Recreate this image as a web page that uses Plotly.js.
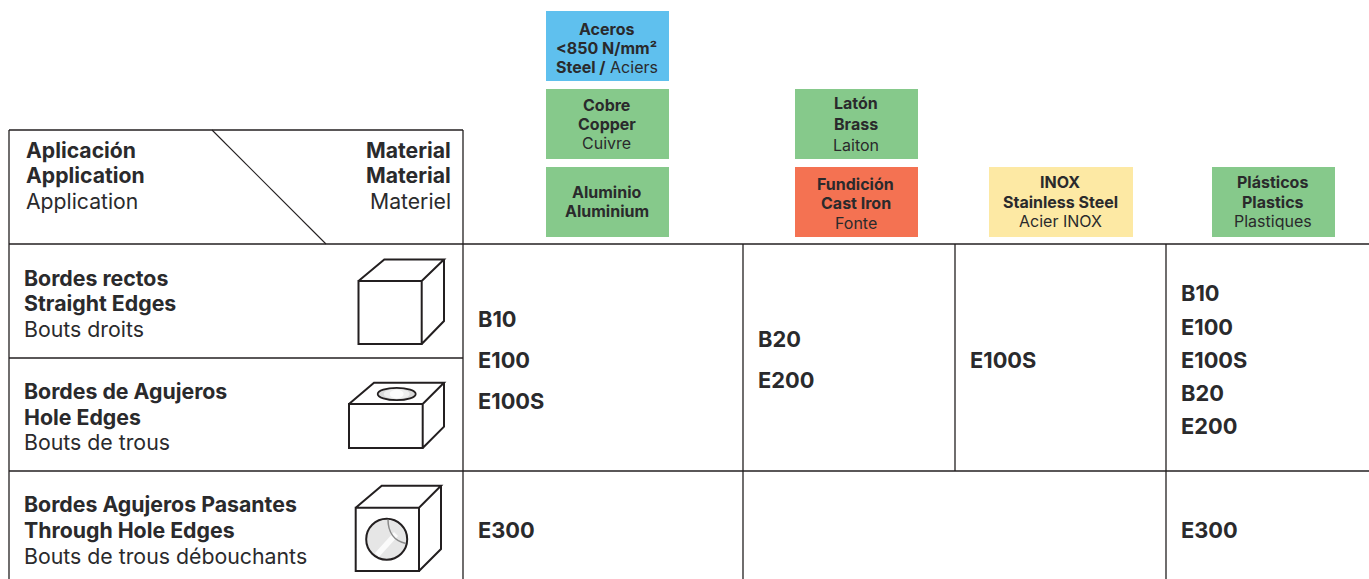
<!DOCTYPE html>
<html><head><meta charset="utf-8">
<script src="https://cdn.plot.ly/plotly-3.0.1.min.js"></script>
<style>html,body{margin:0;padding:0;background:#fff}#c{width:1369px;height:579px}</style>
</head><body><div id="c"></div>
<script>
// ---- content ----
const headerLeft = ["<b>Aplicación</b>", "<b>Application</b>", "Application"];
const headerRight = ["<b>Material</b>", "<b>Material</b>", "Materiel"];
const rowLabels = [
  ["<b>Bordes rectos</b>", "<b>Straight Edges</b>", "Bouts droits"],
  ["<b>Bordes de Agujeros</b>", "<b>Hole Edges</b>", "Bouts de trous"],
  ["<b>Bordes Agujeros Pasantes</b>", "<b>Through Hole Edges</b>", "Bouts de trous débouchants"]
];
const materialLabels = [
  ["<b>Aceros</b>", "<b>&lt;850 N/mm²</b>", "<b>Steel /</b> Aciers"],
  ["<b>Cobre</b>", "<b>Copper</b>", "Cuivre"],
  ["<b>Aluminio</b>", "<b>Aluminium</b>"],
  ["<b>Latón</b>", "<b>Brass</b>", "Laiton"],
  ["<b>Fundición</b>", "<b>Cast Iron</b>", "Fonte"],
  ["<b>INOX</b>", "<b>Stainless Steel</b>", "Acier INOX"],
  ["<b>Plásticos</b>", "<b>Plastics</b>", "Plastiques"]
];
const cellCol1Top = ["B10", "E100", "E100S"];
const cellCol2Top = ["B20", "E200"];
const cellCol3Top = ["E100S"];
const cellCol4Top = ["B10", "E100", "E100S", "B20", "E200"];
const cellCol1Bottom = ["E300"];
const cellCol4Bottom = ["E300"];

// ---- layout geometry ----
const INK = "#231f20", TXT = "#2a2a2c";
const BLUE = "#5fc0ee", GREEN = "#86c98b", RED = "#f47252", YEL = "#fde9a4";
const boxGeom = [
  [546,669,11,81,BLUE],[546,669,89,159,GREEN],[546,669,167,237,GREEN],
  [795,918,89,159,GREEN],[795,918,167,237,RED],
  [989,1133,167,237,YEL],[1212,1335,167,237,GREEN]
];
const boxLineY = [
  [29,48,67],[105,124,143],[192,211],
  [103,124,145],[184,203,223],[182,202,221],[182,202,221]
];
const annotations = [], shapes = [];
function txt(x,y,t,size,anchor,color){
  annotations.push({x,y,xref:"x",yref:"y",text:t,showarrow:false,xanchor:anchor||"left",yanchor:"middle",
    font:{family:"Inter, sans-serif",size,color:color||TXT},borderpad:0,borderwidth:0});
}
function line(x0,y0,x1,y1,w,c){
  shapes.push({type:"line",xref:"x",yref:"y",x0,y0,x1,y1,line:{color:c||INK,width:w||1.3}});
}
function path(d,w,fill,c){
  shapes.push({type:"path",xref:"x",yref:"y",path:d,fillcolor:fill||"rgba(0,0,0,0)",line:{color:c||INK,width:w}});
}
function oval(cx,cy,rx,ry,fill,w,c){
  shapes.push({type:"circle",xref:"x",yref:"y",x0:cx-rx,x1:cx+rx,y0:cy-ry,y1:cy+ry,fillcolor:fill,line:{color:c||INK,width:w}});
}
// boxes
boxGeom.forEach((b,i)=>{
  shapes.push({type:"rect",xref:"x",yref:"y",x0:b[0],x1:b[1],y0:b[2],y1:b[3],fillcolor:b[4],line:{width:0}});
  materialLabels[i].forEach((t,j)=>txt((b[0]+b[1])/2-0.7,boxLineY[i][j],t,16,"center"));
});
// grid
line(9,130,463,130); line(9,130,9,579); line(463,130,463,579);
line(212,130,326,244,1.1);
line(9,244,1369,244); line(9,358,463,358); line(9,471,1369,471);
line(743,244,743,579); line(955,244,955,471); line(1166,244,1166,579);
// header text
[150,175,201].forEach((y,i)=>{txt(26.3,y,headerLeft[i],21.2); txt(451,y,headerRight[i],21.2,"right");});
// row labels
[[278,303,329],[391,417,442],[504,530,556]].forEach((ys,r)=>ys.forEach((y,i)=>txt(24.3,y,rowLabels[r][i],21.3)));
// cells
function cell(x,ys,arr){arr.forEach((t,i)=>txt(x,ys[i],"<b>"+t+"</b>",21.8));}
cell(478,[319,360,401],cellCol1Top);
cell(758,[339,380],cellCol2Top);
cell(970,[360],cellCol3Top);
cell(1181,[293,327,360,393,426],cellCol4Top);
cell(478,[530],cellCol1Bottom);
cell(1181,[530],cellCol4Bottom);
// cube 1
path("M358.5,281 H421.7 V344 H358.5 Z M358.5,281 L384.3,259.5 H444 L421.7,281 M444,259.5 V321 L421.7,344",2);
// cube 2
path("M349,404 H422.7 V448 H349 Z M349,404 L374,382.7 H444 L422.7,404 M444,382.7 V426.7 L422.7,448",2);
oval(396.7,394,19,6.2,"#d9d9d9",1.8);
oval(396.7,394,13,5,"#eeeeee",0);
oval(396.7,394,7,4.2,"#fcfcfc",0);
// cube 3
path("M355.7,507.7 H419 V571 H355.7 Z M355.7,507.7 L381.7,485.7 H441 L419,507.7 M441,485.7 V549 L419,571",2);
oval(386.7,539.3,20.5,20.5,"#e6e6e6",2);
path("M375,553 L394,532 L398,536 L379,557 Z",0,"#fbfbfb","rgba(0,0,0,0)");
path("M388,519.5 C388,532 394,541 406,543.5",1.5,null,"#8a8a8a");

Plotly.newPlot("c",[],{
  width:1369,height:579,margin:{l:0,r:0,t:0,b:0},
  paper_bgcolor:"#fff",plot_bgcolor:"#fff",showlegend:false,
  xaxis:{range:[0,1369],visible:false,fixedrange:true},
  yaxis:{range:[579,0],visible:false,fixedrange:true},
  shapes,annotations
},{displayModeBar:false,staticPlot:true});
</script></body></html>
